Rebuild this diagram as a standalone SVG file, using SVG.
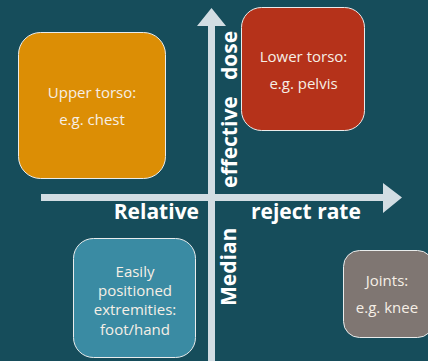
<svg xmlns="http://www.w3.org/2000/svg" width="428" height="361" viewBox="0 0 428 361">
<style>
.box{stroke:#e9ecec;stroke-width:1}
.t{font-family:"Open Sans","Liberation Sans",sans-serif;font-size:15px;fill:#f6efe6;text-anchor:middle}
.ax{font-family:"Open Sans","Liberation Sans",sans-serif;font-size:21px;font-weight:bold;fill:#ffffff}
.arr{fill:#d2dde3}
</style>
<rect width="428" height="361" fill="#164d5b"/>
<g id="axes">
<polygon class="arr" points="208,361 208,26 197,26 211.5,8 226,26 215,26 215,361"/>
<polygon class="arr" points="41,194 383,194 383,183 402,197.5 383,213 383,201 41,201"/>
</g>
<g id="upper-torso">
<rect class="box" x="18.5" y="32.5" width="147" height="146" rx="22" fill="#dc8e05"/>
<text class="t" x="92" y="98">Upper torso:</text>
<text class="t" x="92" y="125">e.g. chest</text>
</g>
<g id="lower-torso">
<rect class="box" x="241.5" y="7.5" width="123" height="123" rx="20" fill="#b5321a"/>
<text class="t" x="303.5" y="62">Lower torso:</text>
<text class="t" x="303.5" y="89">e.g. pelvis</text>
</g>
<g id="extremities">
<rect class="box" x="73.5" y="238.5" width="122" height="119" rx="20" fill="#3a8ba3"/>
<text class="t" x="135" y="277">Easily</text>
<text class="t" x="135" y="296">positioned</text>
<text class="t" x="135" y="315">extremities:</text>
<text class="t" x="135" y="335">foot/hand</text>
</g>
<g id="joints">
<rect class="box" x="343.5" y="250.5" width="90" height="87" rx="16" fill="#7f7672"/>
<text class="t" x="387" y="286">Joints:</text>
<text class="t" x="387" y="313">e.g. knee</text>
</g>
<g id="labels">
<text class="ax" x="199" y="219" text-anchor="end">Relative</text>
<text class="ax" x="251" y="219">reject rate</text>
<text class="ax" transform="translate(237,188) rotate(-90)">effective</text>
<text class="ax" transform="translate(237,80) rotate(-90)">dose</text>
<text class="ax" transform="translate(236,306) rotate(-90)">Median</text>
</g>
</svg>
